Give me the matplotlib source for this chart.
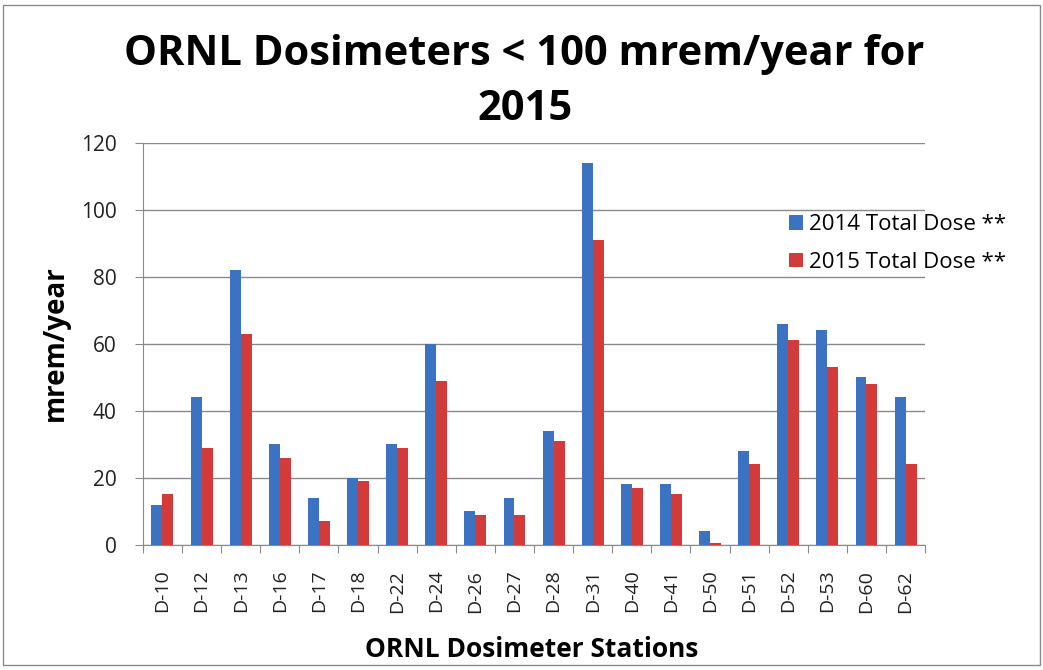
import matplotlib.pyplot as plt
import numpy as np
from matplotlib.patches import Rectangle

stations = ["D-10", "D-12", "D-13", "D-16", "D-17", "D-18", "D-22", "D-24", "D-26", "D-27",
            "D-28", "D-31", "D-40", "D-41", "D-50", "D-51", "D-52", "D-53", "D-60", "D-62"]
dose_2014 = [12, 44, 82, 30, 14, 20, 30, 60, 10, 14, 34, 114, 18, 18, 4, 28, 66, 64, 50, 44]
dose_2015 = [15, 29, 63, 26, 7, 19, 29, 49, 9, 9, 31, 91, 17, 15, 0.5, 24, 61, 53, 48, 24]

plt.rcParams['font.family'] = ['Open Sans', 'DejaVu Sans']

fig = plt.figure(figsize=(10.43, 6.70), dpi=100)
ax = fig.add_axes([0.137, 0.187, 0.750, 0.600])

x = np.arange(len(stations))
w = 0.28
ax.bar(x - w/2, dose_2014, w, color='#3b73c2', label='2014 Total Dose **', zorder=3)
ax.bar(x + w/2, dose_2015, w, color='#d33b3b', label='2015 Total Dose **', zorder=3)

ax.set_xlim(-0.5, len(stations) - 0.5)
ax.set_ylim(0, 120)
ax.set_yticks(range(0, 121, 20))
ax.yaxis.grid(True, color='#8a8a8a', linewidth=1, zorder=0)
ax.tick_params(axis='y', length=6, color='#8a8a8a', labelsize=15, pad=13, labelcolor='#222222')

ax.set_xticks(np.arange(-0.5, len(stations), 1), minor=False)
ax.set_xticklabels([])
ax.set_xticks(x, minor=True)
ax.set_xticklabels(stations, minor=True, rotation=90, fontsize=14)
ax.tick_params(axis='x', which='major', length=6, color='#8a8a8a', direction='out')
ax.tick_params(axis='x', which='minor', length=0, pad=18, labelcolor='#222222')

for s in ['top', 'right']:
    ax.spines[s].set_visible(False)
for s in ['left', 'bottom']:
    ax.spines[s].set_color('#8a8a8a')

ax.set_ylabel('mrem/year', fontsize=20, fontweight='bold', va='center')
ax.yaxis.set_label_coords(-0.1125, 0.502)
ax.set_xlabel('ORNL Dosimeter Stations', fontsize=19, fontweight='bold', va='center')
ax.xaxis.set_label_coords(0.497, -0.261)

fig.text(0.503, 0.918, 'ORNL Dosimeters < 100 mrem/year for', ha='center', va='center',
         fontsize=30, fontweight='bold')
fig.text(0.503, 0.836, '2015', ha='center', va='center', fontsize=30, fontweight='bold')

ax.legend(loc='center left', bbox_to_anchor=(0.812, 0.749), frameon=False, fontsize=16,
          borderpad=0, handlelength=0.6, handleheight=0.6, handletextpad=0.3, labelspacing=0.75)

fig.patches.append(Rectangle((0.003, 0.007), 0.994, 0.986, transform=fig.transFigure,
                             fill=False, edgecolor='#8a8a8a', linewidth=1))

fig.savefig('out.png', dpi=100)
